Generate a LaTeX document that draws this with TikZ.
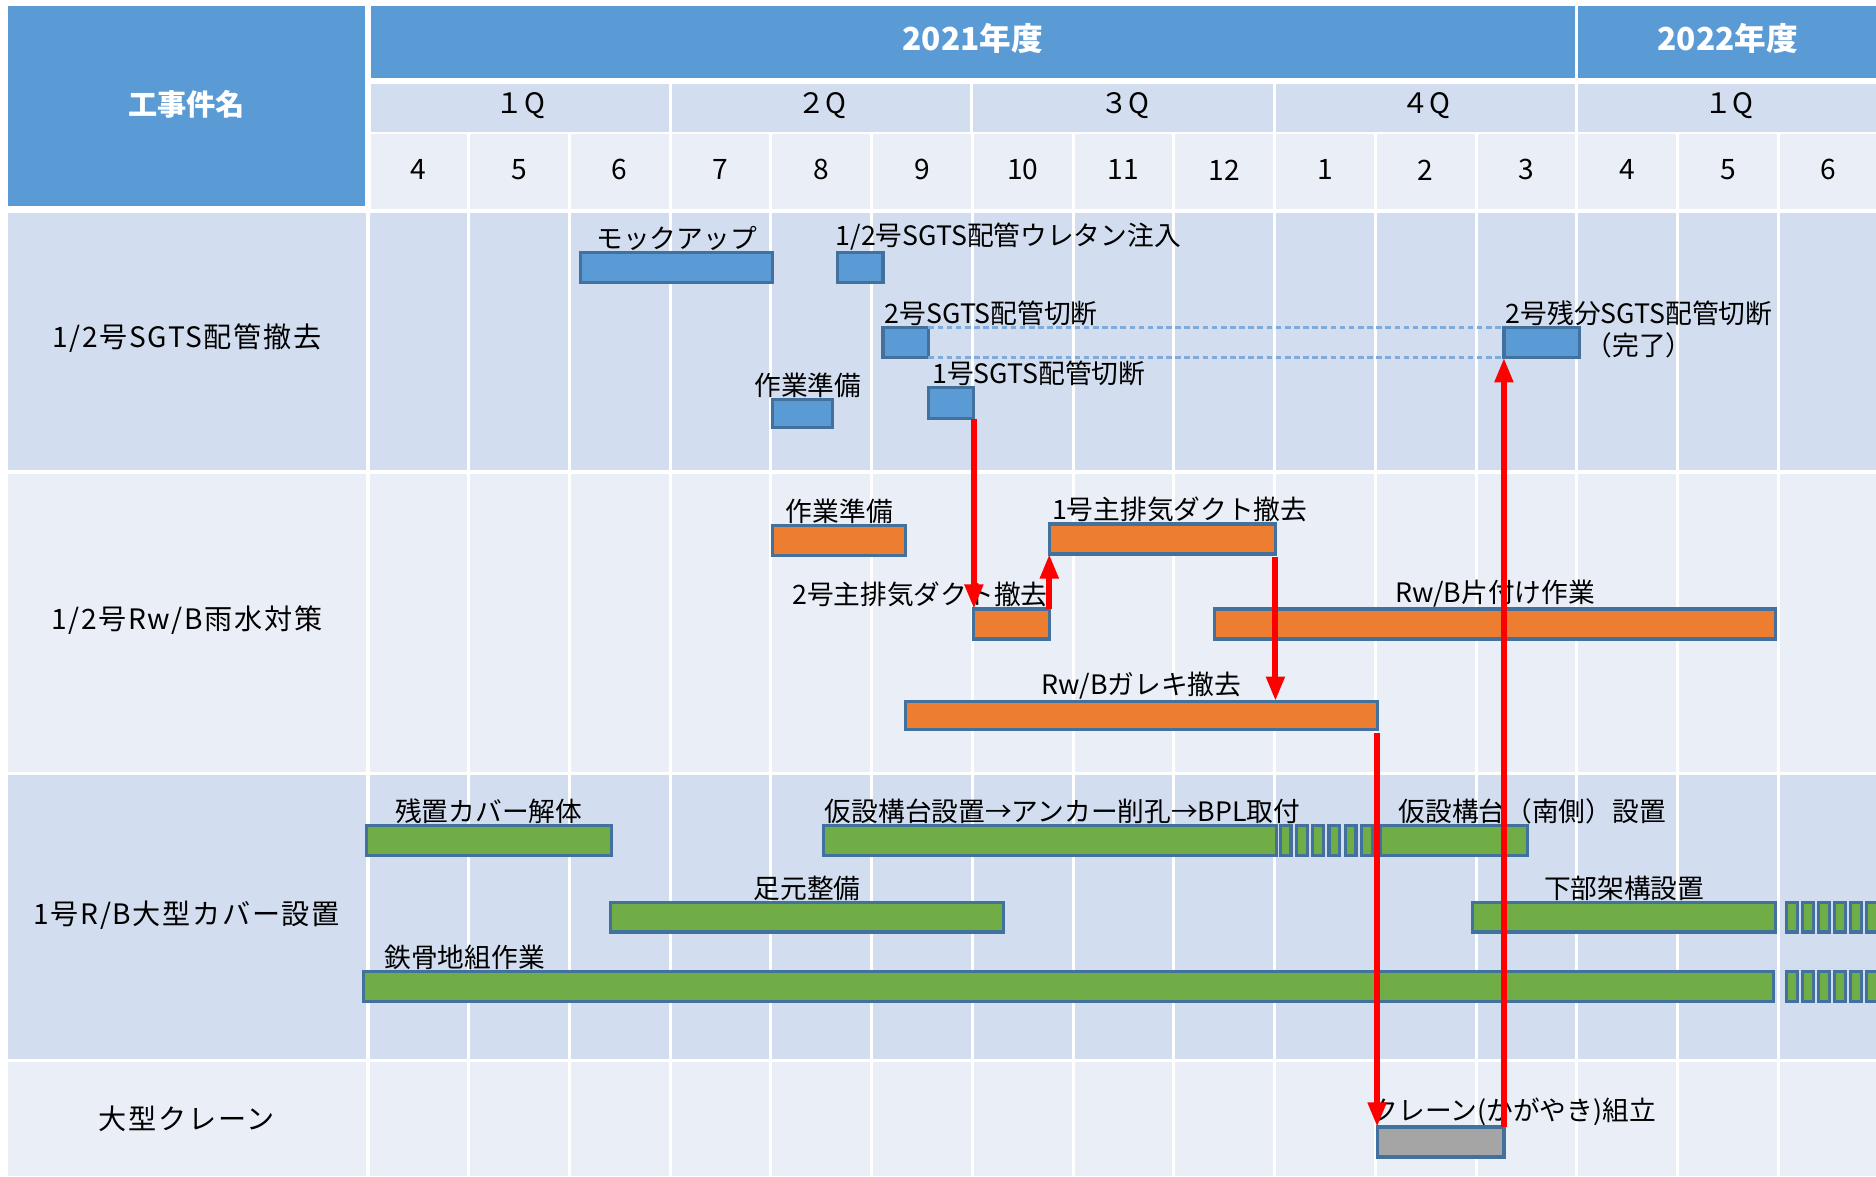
\documentclass[tikz,border=0pt]{standalone}
\usepackage{fontspec}
\setmainfont{Noto Sans CJK JP}
\usetikzlibrary{arrows.meta,fit,positioning}

\definecolor{headblue}{HTML}{5B9BD5}
\definecolor{banddark}{HTML}{D2DEEF}
\definecolor{bandlight}{HTML}{EAEFF7}
\definecolor{barline}{HTML}{41719C}
\definecolor{barblue}{HTML}{5B9BD5}
\definecolor{barorange}{HTML}{ED7D31}
\definecolor{bargreen}{HTML}{70AD47}
\definecolor{bargray}{HTML}{A5A5A5}
\definecolor{dashblue}{HTML}{7FAADC}

\tikzset{
  taskbar/.style={draw=barline, line width=0.9pt, inner sep=0pt, outer sep=0pt},
  bluebar/.style={taskbar, fill=barblue},
  orangebar/.style={taskbar, fill=barorange},
  greenbar/.style={taskbar, fill=bargreen},
  graybar/.style={taskbar, fill=bargray},
  greenpiece/.style={draw=barline, line width=0.9pt, fill=bargreen},
  tasklabel/.style={font=\fontsize{7.6}{9}\selectfont, inner sep=0.3pt},
  rowlabel/.style={font=\fontsize{8}{10}\selectfont},
  itemlabel/.style={font=\addfontfeature{LetterSpace=6}\fontsize{8}{10}\selectfont},
  headlabel/.style={font=\bfseries\fontsize{9}{11}\selectfont, text=white},
  gridline/.style={white, line width=0.85pt},
  linkarrow/.style={red, line width=1.7pt, -{Triangle[width=5pt,length=7pt]}},
  linkdash/.style={dashblue, line width=0.8pt, dash pattern=on 1.6pt off 1pt},
}

\begin{document}
\begin{tikzpicture}[x=0.011964cm, y=-0.011964cm]
        \useasboundingbox (0,0) rectangle (1568,983);
        \clip (0,0) rectangle (1568,983);
        \fill[white] (0,0) rectangle (1568,983);

        % Header: name column, fiscal years, quarters, months
        \fill[headblue] (7,5) rectangle (305,172);
        \fill[headblue] (310,5) rectangle (1568,65);
        \fill[banddark] (310,70) rectangle (1568,110);
        \fill[bandlight] (310,112) rectangle (1568,175);
        \draw[gridline] (1318,5) -- (1318,65);
        \draw[gridline] (560,70) -- (560,110);
        \draw[gridline] (812,70) -- (812,110);
        \draw[gridline] (1065,70) -- (1065,110);
        \draw[gridline] (1318,70) -- (1318,110);

        \node[headlabel, font=\bfseries\fontsize{8.3}{10}\selectfont] (kojiname) at (156,87) {工事件名};
        \node[headlabel] (fy2021) at (813,32) {2021年度};
        \node[headlabel] (fy2022) at (1444,32) {2022年度};

        \node[rowlabel] (q1) at (435,88) {１Q};
        \node[rowlabel] (q2) at (687,88) {２Q};
        \node[rowlabel] (q3) at (940,88) {３Q};
        \node[rowlabel] (q4) at (1192,88) {４Q};
        \node[rowlabel] (q5) at (1445,88) {１Q};

        % Row bands
        \fill[banddark] (7,178) rectangle (1568,393);
        \fill[bandlight] (7,396) rectangle (1568,645);
        \fill[banddark] (7,648) rectangle (1568,885);
        \fill[bandlight] (7,888) rectangle (1568,983);

        % Month grid
        \draw[gridline, line width=1pt] (307.5,176) -- (307.5,983);
        \foreach \k in {1,...,14}
          \draw[gridline] (307.5+84.2*\k,112) -- (307.5+84.2*\k,983);
        \foreach \m [count=\i from 0] in {4,5,6,7,8,9,10,11,12,1,2,3,4,5,6}
          \node[rowlabel] (month\i) at (349.6+84.2*\i,142) {\m};

        % Work item names
        \node[itemlabel] (item1) at (156,283) {1/2号SGTS配管撤去};
        \node[itemlabel] (item2) at (156,518) {1/2号Rw/B雨水対策};
        \node[itemlabel] (item3) at (156,765) {1号R/B大型カバー設置};
        \node[itemlabel] (item4) at (156,935) {大型クレーン};

        % SGTS piping
        \node[bluebar, fit={(485,211) (646,236)}] (mockup) {};
        \node[bluebar, fit={(700,211) (738,236)}] (urethane) {};
        \node[bluebar, fit={(738,274) (776,299)}] (cut2) {};
        \node[bluebar, fit={(646,334) (696,357)}] (prep1) {};
        \node[bluebar, fit={(776,324) (814,350)}] (cut1) {};
        \node[bluebar, fit={(1257,274) (1320,299)}] (cutrest) {};
        \draw[linkdash] (cut2.north east) -- (cutrest.north west);
        \draw[linkdash] (cut2.south east) -- (cutrest.south west);

        \node[tasklabel, above=0pt of mockup] {モックアップ};
        \node[tasklabel, above right=0pt and -1pt of urethane.north west] {1/2号SGTS配管ウレタン注入};
        \node[tasklabel, above right=0pt and 0pt of cut2.north west] {2号SGTS配管切断};
        \node[tasklabel, above=0pt of prep1, xshift=1.4pt] {作業準備};
        \node[tasklabel, above right=0pt and 0.6pt of cut1.north west] {1号SGTS配管切断};
        \node[tasklabel, anchor=north, align=center, yshift=8.2pt] at (1370,274) {2号残分SGTS配管切断\\（完了）};

        % Rw/B rain water
        \node[orangebar, fit={(646,439) (757,464)}] (prep2) {};
        \node[orangebar, fit={(877,438) (1066,463)}] (duct1) {};
        \node[orangebar, fit={(814,509) (877,534)}] (duct2) {};
        \node[orangebar, fit={(1015,509) (1484,534)}] (cleanup) {};
        \node[orangebar, fit={(757,586) (1151,610)}] (rubble) {};

        \node[tasklabel, above=0pt of prep2] {作業準備};
        \node[tasklabel, above right=0pt and 0.3pt of duct1.north west] {1号主排気ダクト撤去};
        \node[tasklabel, above left=0pt and 0pt of duct2.north east] {2号主排気ダクト撤去};
        \node[tasklabel, above=0pt of cleanup] {Rw/B片付け作業};
        \node[tasklabel, above=0pt of rubble] {Rw/Bガレキ撤去};

        % R/B large cover
        \node[greenbar, fit={(306,690) (511,715)}] (dismantle) {};
        \node[greenbar, fit={(688,690) (1067,715)}] (gantry) {};
        \node[greenbar, fit={(1154,690) (1277,715)}] (gantrysouth) {};
        \node[greenbar, fit={(510,754) (839,779)}] (footing) {};
        \node[greenbar, fit={(1231,754) (1484,779)}] (lowerframe) {};
        \node[greenbar, fit={(304,812) (1482,837)}] (steel) {};
        \foreach \i in {0,...,5} {
          \draw[greenpiece] (1070+13.6*\i,690) rectangle ++(9,25);
          \draw[greenpiece] (1493+13.4*\i,754) rectangle ++(9.5,25);
          \draw[greenpiece] (1493+13.4*\i,812) rectangle ++(9.5,25);
        }

        \node[tasklabel, above=0pt of dismantle] {残置カバー解体};
        \node[tasklabel, above right=0pt and 0pt of gantry.north west] {仮設構台設置→アンカー削孔→BPL取付};
        \node[tasklabel, above right=0pt and 4.6pt of gantrysouth.north west] {仮設構台（南側）設置};
        \node[tasklabel, above=0pt of footing] {足元整備};
        \node[tasklabel, above=0pt of lowerframe] {下部架構設置};
        \node[tasklabel, above right=0pt and 5.4pt of steel.north west] {鉄骨地組作業};

        % Large crane
        \node[graybar, fit={(1151,942) (1257,967)}] (crane) {};
        \node[tasklabel, above right=0pt and -2pt of crane.north west] {クレーン(かがやき)組立};

        % Dependencies
        \draw[linkarrow] (cut1.south east) -- (duct2.north west);
        \draw[linkarrow] (duct2.north east) -- (duct1.south west);
        \draw[linkarrow, shorten <=1pt] (duct1.south east) -- (duct1.south east |- rubble.north);
        \draw[linkarrow, shorten <=1pt] (rubble.south east) -- (crane.north west);
        \draw[linkarrow] (crane.north east) -- (cutrest.south west);

    \end{tikzpicture}
\end{document}
